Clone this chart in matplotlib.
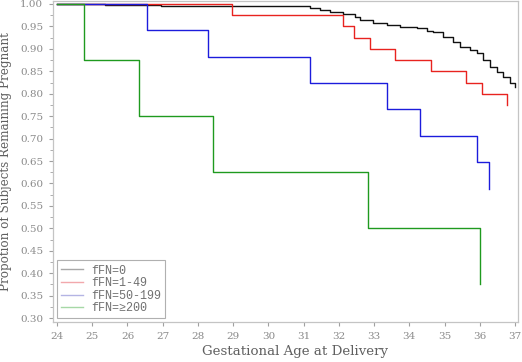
import matplotlib
matplotlib.use("Agg")
import matplotlib.pyplot as plt
from matplotlib.lines import Line2D
from matplotlib.ticker import MultipleLocator

# ---- data ----
labels = ["fFN=0", "fFN=1-49", "fFN=50-199", "fFN=\u2265200"]

t_0 = [24, 25.36, 26.95, 27.72, 30.90, 31.18, 31.47, 31.75, 32.13, 32.46, 32.60,
       32.98, 33.36, 33.74, 34.21, 34.49, 34.68, 34.97, 35.25, 35.44, 35.72, 35.91,
       36.10, 36.29, 36.48, 36.67, 36.86, 37.0]
s_0 = [1.0, 0.998, 0.9965, 0.9955, 0.9955, 0.9903, 0.9866, 0.9829, 0.9777, 0.9718, 0.9643,
       0.957, 0.953, 0.949, 0.9457, 0.9398, 0.9369, 0.9272, 0.916, 0.905, 0.8975, 0.890,
       0.875, 0.860, 0.849, 0.838, 0.823, 0.816]

t_1 = [24, 28.97, 32.12, 32.43, 32.89, 33.6, 34.62, 35.61, 36.06, 36.77]
s_1 = [1.0, 0.975, 0.95, 0.925, 0.90, 0.875, 0.85, 0.825, 0.80, 0.775]

t_2 = [24, 26.55, 28.29, 31.18, 33.37, 34.3, 35.92, 36.26]
s_2 = [1.0, 0.941, 0.882, 0.824, 0.765, 0.706, 0.647, 0.588]

t_3 = [24, 24.77, 26.33, 28.43, 32.83, 36.0]
s_3 = [1.0, 0.875, 0.75, 0.625, 0.5, 0.375]

x_ticks = list(range(24, 38))
y_ticks = [0.30, 0.35, 0.40, 0.45, 0.50, 0.55, 0.60, 0.65, 0.70, 0.75, 0.80, 0.85, 0.90, 0.95, 1.00]

line_colors = ["#111111", "#e8231f", "#1c1cdc", "#1f9a1f"]
legend_colors = ["#a8a8a8", "#f2a8ac", "#b4b4e4", "#a6d8a6"]

# ---- figure ----
W, H = 522, 362
fig = plt.figure(figsize=(W / 100, H / 100), dpi=100)
ax = fig.add_axes([53 / W, (H - 322) / H, 465 / W, 321.5 / H])

series = [(t_0, s_0), (t_1, s_1), (t_2, s_2), (t_3, s_3)]
for (t, s), c in zip(series, line_colors):
    ax.plot(t, s, drawstyle="steps-post", color=c, lw=1.0)

ax.set_xlim(23.886, 37.085)
ax.set_ylim(0.2911, 1.0078)
ax.set_xticks(x_ticks)
ax.set_yticks(y_ticks)
ax.set_yticklabels([f"{v:.2f}" for v in y_ticks])
ax.yaxis.set_minor_locator(MultipleLocator(0.025))

tick_col = "#8a8a8a"
serif = ["DejaVu Serif"]
for lab in ax.get_xticklabels() + ax.get_yticklabels():
    lab.set_family(serif)
    lab.set_fontsize(7.5)
    lab.set_color(tick_col)
ax.tick_params(axis="both", which="major", direction="out", length=3, width=0.8,
               color="#a0a0a0", pad=4)
ax.tick_params(axis="y", which="minor", direction="out", length=2, width=0.6,
               color="#a0a0a0")
for sp in ax.spines.values():
    sp.set_color("#c4c4c4")
    sp.set_linewidth(0.9)

ax.set_xlabel("Gestational Age at Delivery", family=serif, fontsize=9.6,
              color="#606060")
ax.xaxis.set_label_coords((294.5 - 53) / 465, -0.072)
ax.set_ylabel("Propotion of Subjects Remaining Pregnant", family=serif,
              fontsize=8.6, color="#606060", labelpad=6)

handles = [Line2D([], [], color=c, lw=1.0) for c in legend_colors]
leg = ax.legend(handles, labels, loc="lower left", bbox_to_anchor=(0, 0),
                borderaxespad=0.3, prop={"family": ["Liberation Mono", "DejaVu Sans Mono"],
                                         "size": 8.5},
                handlelength=1.9, handletextpad=0.65, labelspacing=0.05,
                borderpad=0.35, fancybox=False, framealpha=1)
leg.get_frame().set_edgecolor("#b0b0b0")
leg.get_frame().set_linewidth(0.8)
for txt in leg.get_texts():
    txt.set_color("#707070")

fig.savefig("out.png", dpi=100)
